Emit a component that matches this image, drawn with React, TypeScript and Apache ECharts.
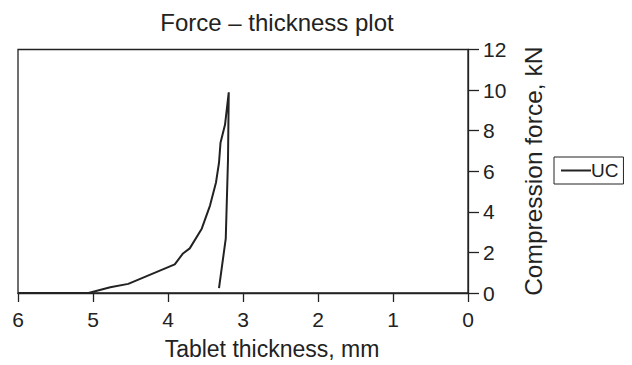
import React, { useEffect, useRef } from "react";
import * as echarts from "echarts";

const thickness = [6.0, 5.06, 4.77, 4.53, 3.91, 3.8, 3.71, 3.55, 3.44, 3.36, 3.32, 3.3, 3.24, 3.19, 3.2, 3.23, 3.32];
const force = [0, 0, 0.28, 0.45, 1.41, 1.95, 2.2, 3.17, 4.31, 5.45, 6.42, 7.4, 8.29, 9.89, 6.58, 2.68, 0.24];
const xTicks = [0, 1, 2, 3, 4, 5, 6];
const yTicks = [0, 2, 4, 6, 8, 10, 12];

const FONT = "Liberation Sans";
const INK = "#222";

export default function App() {
  const ref = useRef<HTMLDivElement>(null);
  useEffect(() => {
    const chart = echarts.init(ref.current!, null, { renderer: "svg" });
    chart.setOption({
      animation: false,
      backgroundColor: "#fff",
      title: {
        text: "Force – thickness plot",
        left: 272,
        top: 5,
        textAlign: "center",
        textStyle: { fontFamily: FONT, fontSize: 24, fontWeight: "normal", color: INK },
      },
      legend: {
        data: ["UC"],
        left: 554,
        top: 157,
        orient: "vertical",
        icon: "rect",
        borderColor: INK,
        borderWidth: 1,
        padding: [4, 5, 4, 7],
        itemWidth: 30,
        itemHeight: 2,
        itemGap: 0,
        textStyle: { fontFamily: FONT, fontSize: 19, color: INK, padding: [0, 0, 0, -5] },
      },
      grid: {
        left: 18,
        right: 164,
        top: 49.5,
        bottom: 70,
        show: true,
        borderColor: INK,
        borderWidth: 1.3,
        backgroundColor: "transparent",
      },
      xAxis: {
        type: "value",
        min: 0,
        max: 6,
        interval: 1,
        inverse: true,
        name: "Tablet thickness, mm",
        nameLocation: "middle",
        nameGap: 44,
        nameTextStyle: { fontFamily: FONT, fontSize: 23, color: INK, padding: [0, 0, 0, 58] },
        axisLine: { show: true, lineStyle: { color: INK, width: 1.3 } },
        axisTick: { show: true, length: 9, lineStyle: { color: INK, width: 1.3 } },
        axisLabel: { fontFamily: FONT, fontSize: 21, color: INK, margin: 16, formatter: (v: number) => (xTicks.includes(v) ? String(v) : "") },
        splitLine: { show: false },
      },
      yAxis: {
        type: "value",
        position: "right",
        min: 0,
        max: 12,
        interval: 2,
        name: "Compression force, kN",
        nameLocation: "middle",
        nameGap: 53,
        nameRotate: 90,
        nameTextStyle: { fontFamily: FONT, fontSize: 24.5, color: INK },
        axisLine: { show: true, lineStyle: { color: INK, width: 1.3 } },
        axisTick: { show: true, length: 11, lineStyle: { color: INK, width: 1.3 } },
        axisLabel: { fontFamily: FONT, fontSize: 21, color: INK, margin: 15, formatter: (v: number) => (yTicks.includes(v) ? String(v) : "") },
        splitLine: { show: false },
      },
      series: [
        {
          name: "UC",
          type: "line",
          symbol: "none",
          data: thickness.map((t, i) => [t, force[i]]),
          lineStyle: { color: INK, width: 2 },
          itemStyle: { color: INK },
        },
      ],
    });
    return () => chart.dispose();
  }, []);
  return <div ref={ref} style={{ width: 632, height: 365, position: "absolute", left: 0, top: 0 }} />;
}
